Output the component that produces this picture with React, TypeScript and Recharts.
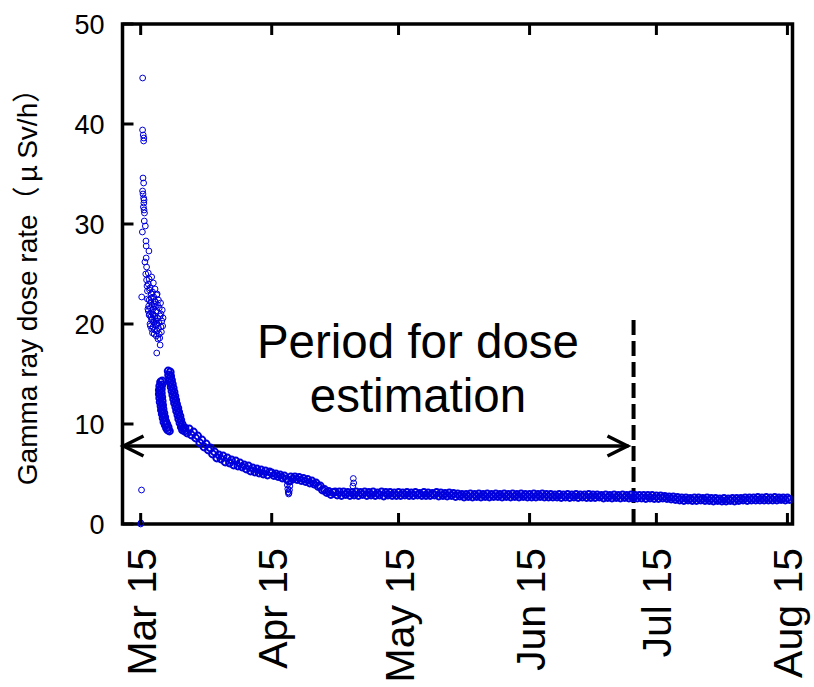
import React from "react";
import {
  ScatterChart,
  Scatter,
  XAxis,
  YAxis,
  ReferenceArea,
  ReferenceLine,
  ReferenceDot,
} from "recharts";

// x values are days counted from Mar 15
const tickDays = [0, 31, 61, 92, 122, 153];
const tickLabels = ["Mar 15", "Apr 15", "May 15", "Jun 15", "Jul 15", "Aug 15"];
const rateTicks = [0, 10, 20, 30, 40, 50];

// first days after Mar 15: sparse readings
const spikeDays = [
  0.0, 0.05, 0.2, 0.47, 0.45, 0.6, 0.75, 0.7, 0.55, 0.7, 0.45, 0.55, 0.7, 0.8, 0.75, 0.65, 0.8, 0.9, 0.85,
  0.4, 1.25, 1.95, 1.3, 1.0, 1.4, 1.8, 1.2, 2.6, 1.4, 3.0, 1.8, 2.2, 1.6, 2.8, 0.24, 3.8, 1.6, 2.4, 3.3,
  3.2, 1.9, 2.9, 3.6, 2.1, 2.6, 3.4, 4.0, 2.6, 3.1, 3.8, 2.3, 4.2, 3.3, 2.8, 4.4, 3.7, 4.1, 4.6, 3.8,
  2.0, 2.7, 3.5, 2.4, 3.0, 3.6, 4.3, 2.9, 3.9, 4.5, 2.2, 1.8, 2.5, 3.4, 2.0, 2.8, 3.2,
  1.5, 2.1, 2.5, 3.1, 3.5, 1.7, 2.3, 2.9, 3.3, 4.0, 2.0, 2.6, 3.7, 1.3, 1.1,
  4.8, 5.0, 5.2, 4.9, 4.7, 5.1, 4.6, 4.4, 4.2, 3.9, 4.8, 5.3,
];
const spikeRates = [
  0.0, 0.1, 3.4, 44.6, 39.4, 38.9, 38.6, 38.3, 34.6, 34.1, 33.3, 33.0, 32.6, 32.4, 32.1, 31.7, 31.4, 31.1, 30.3,
  29.2, 28.3, 27.3, 26.6, 26.2, 25.7, 25.1, 25.0, 24.7, 24.4, 24.1, 24.0, 23.6, 23.3, 23.2, 22.7, 22.9, 22.5, 22.2, 22.3,
  22.0, 21.8, 21.5, 21.3, 21.0, 21.2, 20.8, 20.6, 20.4, 20.2, 20.0, 19.8, 19.6, 19.4, 19.1, 19.0, 18.8, 18.5, 17.9, 17.1,
  22.4, 21.9, 21.7, 20.7, 20.9, 20.3, 20.1, 19.7, 19.3, 18.6, 20.0, 21.3, 23.0, 23.5, 24.5, 20.5, 19.0,
  23.8, 23.4, 22.6, 22.7, 22.2, 21.5, 21.6, 21.0, 20.6, 21.9, 20.9, 19.5, 19.9, 27.8, 29.8,
  21.0, 20.3, 19.8, 19.2, 22.1, 21.4, 20.8, 21.6, 22.4, 23.0, 19.7, 20.6,
];

// the two falling streaks around Mar 19-25
const streakDays = [
  4.7, 4.5, 4.4, 4.4, 4.5, 4.6, 4.8, 4.9, 5.1, 5.3, 5.5, 5.8, 6.1, 6.4,
  5.1, 5.0, 4.9, 4.9, 5.0, 5.1, 5.2, 5.3, 5.5, 5.7, 5.9, 6.2, 6.5, 6.8,
  6.5, 6.6, 6.8, 7.0, 7.2, 7.4, 7.6, 7.8, 8.0, 8.3, 8.5, 8.8, 9.0, 9.3, 9.6, 9.9,
  7.0, 7.1, 7.3, 7.5, 7.7, 7.9, 8.1, 8.3, 8.5, 8.8, 9.0, 9.3, 9.5, 9.8, 10.1, 10.4,
];
const streakRates = [
  14.2, 13.8, 13.4, 13.0, 12.6, 12.2, 11.8, 11.4, 11.0, 10.6, 10.2, 9.9, 9.6, 9.4,
  14.3, 13.9, 13.5, 13.1, 12.7, 12.3, 11.9, 11.5, 11.1, 10.7, 10.3, 10.0, 9.7, 9.3,
  15.3, 14.9, 14.5, 14.1, 13.7, 13.3, 12.9, 12.5, 12.1, 11.7, 11.3, 10.9, 10.5, 10.1, 9.7, 9.4,
  15.2, 14.8, 14.4, 14.0, 13.6, 13.2, 12.8, 12.4, 12.0, 11.6, 11.2, 10.8, 10.4, 10.0, 9.6, 9.3,
];

// hook around Apr 19 and the blip around May 4
const bumpDays = [34.7, 34.8, 34.9, 35.0, 35.1, 35.2, 35.3, 35.4, 50.3, 50.4, 50.2];
const bumpRates = [3.9, 3.5, 3.2, 3.0, 3.1, 3.4, 3.8, 4.2, 4.55, 4.1, 3.8];

// continuous readings, one every half day from the given start day
const bandStarts = [10.5, 31, 61, 92, 122];
const bandMar = [
  9.6, 9.1, 9.5, 8.9, 9.2, 8.6, 8.8, 8.1, 8.4, 7.7, 8.0, 7.4, 7.6, 7.0, 7.2, 6.6, 6.9, 6.5, 6.8, 6.2,
  6.6, 6.1, 6.4, 5.9, 6.3, 5.8, 6.1, 5.7, 5.9, 5.5, 5.8, 5.3, 5.6, 5.2, 5.5, 5.1, 5.4, 5.0, 5.3, 4.9, 5.2,
];
const bandApr = [
  5.1, 4.85, 5.0, 4.75, 4.9, 4.6, 4.8, 4.5, 4.3, 4.7, 4.5, 4.7, 4.45, 4.65, 4.35, 4.55, 4.25, 4.45, 4.1, 4.3,
  4.0, 4.1, 3.75, 3.8, 3.4, 3.45, 3.15, 3.25, 2.95, 3.15, 3.2, 2.9, 3.2, 2.85, 3.2, 2.95, 3.15, 2.85, 3.15, 2.9,
  3.2, 2.85, 3.15, 2.95, 3.2, 2.85, 3.15, 2.9, 3.2, 2.85, 3.1, 2.9, 3.2, 2.8, 3.15, 2.9, 3.15, 2.85, 3.1, 2.85,
];
const bandMay = [
  3.15, 2.85, 3.1, 2.9, 3.15, 2.85, 3.1, 2.85, 3.15, 2.9, 3.05, 2.85, 3.15, 2.85, 3.1, 2.85, 3.05, 2.9, 3.15, 2.8,
  3.1, 2.85, 3.05, 2.8, 3.1, 2.85, 3.05, 2.75, 3.0, 2.8, 2.95, 2.7, 2.95, 2.75, 3.0, 2.7, 2.95, 2.75, 3.0, 2.7,
  2.95, 2.75, 3.0, 2.7, 2.95, 2.75, 3.0, 2.75, 2.95, 2.7, 3.0, 2.75, 2.95, 2.7, 3.0, 2.75, 2.95, 2.7, 3.0, 2.75,
  2.95, 2.7,
];
const bandJun = [
  2.95, 2.7, 3.0, 2.7, 2.95, 2.75, 3.0, 2.7, 2.95, 2.7, 2.95, 2.7, 2.9, 2.7, 2.95, 2.65, 2.9, 2.7, 2.95, 2.65,
  2.9, 2.7, 2.95, 2.65, 2.9, 2.7, 2.9, 2.65, 2.95, 2.65, 2.9, 2.65, 2.9, 2.7, 2.85, 2.6, 2.9, 2.65, 2.85, 2.6,
  2.9, 2.65, 2.85, 2.6, 2.9, 2.65, 2.85, 2.6, 2.9, 2.6, 2.85, 2.6, 2.85, 2.6, 2.85, 2.55, 2.85, 2.6, 2.85, 2.55,
];
const bandJul = [
  2.8, 2.55, 2.8, 2.6, 2.75, 2.55, 2.7, 2.5, 2.7, 2.45, 2.65, 2.4, 2.6, 2.35, 2.6, 2.4, 2.55, 2.35, 2.6, 2.35,
  2.6, 2.4, 2.55, 2.35, 2.6, 2.35, 2.55, 2.3, 2.55, 2.35, 2.5, 2.3, 2.55, 2.3, 2.5, 2.35, 2.55, 2.3, 2.55, 2.35,
  2.55, 2.4, 2.6, 2.35, 2.6, 2.4, 2.6, 2.4, 2.65, 2.4, 2.6, 2.4, 2.65, 2.4, 2.6, 2.4, 2.65, 2.4, 2.6, 2.45,
  2.6, 2.4, 2.6, 2.45,
];

// annotation
const xMin = -4.3;
const xMax = 154.2;
const periodEnd = 116.6;
const arrowEnd = 115.4;
const arrowRate = 7.8;
const dashTop = 20.8;

const FONT = "'Liberation Sans', Arial, 'Noto Sans CJK JP', sans-serif";
const CJK = "'Noto Sans CJK JP', sans-serif";
const BLUE = "#0000dd";

const pairs = (days: number[], rates: number[]) => days.map((d, i) => ({ day: d, rate: rates[i] }));
const band = [bandMar, bandApr, bandMay, bandJun, bandJul].flatMap((arr, k) =>
  arr.map((r, i) => ({ day: bandStarts[k] + i * 0.5, rate: r }))
);
const sparse = [...pairs(spikeDays, spikeRates), ...pairs(bumpDays, bumpRates)];
const streaks = pairs(streakDays, streakRates);

const Ring = (p: any) => <circle cx={p.cx} cy={p.cy} r={2.9} fill="none" stroke={BLUE} strokeWidth={1} />;
// dense hourly readings merge into a solid ribbon
const DenseRing = (p: any) => <circle cx={p.cx} cy={p.cy} r={3.4} fill="none" stroke={BLUE} strokeWidth={2} />;

const BottomTick = ({ x, y, payload }: any) => {
  const label = tickLabels[tickDays.indexOf(payload.value)];
  const tx = x + 15;
  const ty = y + 24;
  return (
    <g>
      <line x1={x} y1={y} x2={x} y2={y - 11} stroke="#000" strokeWidth={3} />
      <text x={tx} y={ty} transform={`rotate(-90, ${tx}, ${ty})`} textAnchor="end" fontSize={41} fontFamily={FONT} fill="#000">
        {label}
      </text>
    </g>
  );
};
const TopTick = ({ x, y }: any) => <line x1={x} y1={y} x2={x} y2={y + 11} stroke="#000" strokeWidth={3} />;
const LeftTick = ({ x, y, payload }: any) => (
  <g>
    <line x1={x} y1={y} x2={x + 11} y2={y} stroke="#000" strokeWidth={3} />
    <text x={x - 18} y={y} dy="0.36em" textAnchor="end" fontSize={27} fontFamily={FONT} fill="#000">
      {payload.value}
    </text>
  </g>
);
const RightTick = ({ x, y }: any) => <line x1={x} y1={y} x2={x - 11} y2={y} stroke="#000" strokeWidth={3} />;

const Arrow = (p: any) => {
  const { x1, y1, x2, y2 } = p;
  return (
    <g stroke="#000" strokeWidth={3.5} fill="none">
      <line x1={x1} y1={y1} x2={x2} y2={y2} />
      <polyline points={`${x1 + 21},${y1 - 10} ${x1 + 1},${y1} ${x1 + 21},${y1 + 10}`} />
      <polyline points={`${x2 - 21},${y2 - 10} ${x2 - 1},${y2} ${x2 - 21},${y2 + 10}`} />
    </g>
  );
};

const PeriodText = (p: any) => (
  <text x={p.cx} y={p.cy} textAnchor="middle" fontSize={47.5} fontFamily={FONT} fill="#000">
    <tspan x={p.cx}>Period for dose</tspan>
    <tspan x={p.cx} dy={54}>estimation</tspan>
  </text>
);

const YTitle = () => (
  <text x={37} y={280} transform="rotate(-90, 37, 280)" textAnchor="middle" fontSize={28} fontFamily={FONT} fill="#000">
    Gamma ray dose rate
    <tspan fontFamily={CJK}>（</tspan>
    <tspan fontFamily={CJK} dx={4}>μ</tspan>
    <tspan dx={6}>Sv/h</tspan>
    <tspan fontFamily={CJK}>）</tspan>
  </text>
);

export default function App() {
  return (
    <div style={{ position: "absolute", left: 0, top: 0, width: 814, height: 687, background: "#fff" }}>
      <ScatterChart width={814} height={687} margin={{ top: 0, right: 0, bottom: 0, left: 0 }}>
        <XAxis
          xAxisId="bottom"
          type="number"
          dataKey="day"
          domain={[xMin, xMax]}
          allowDataOverflow
          ticks={tickDays}
          interval={0}
          height={163}
          axisLine={false}
          tickLine={false}
          tickSize={0}
          tickMargin={0}
          tick={<BottomTick />}
        />
        <XAxis
          xAxisId="top"
          orientation="top"
          type="number"
          dataKey="day"
          domain={[xMin, xMax]}
          allowDataOverflow
          ticks={tickDays}
          interval={0}
          height={24}
          axisLine={false}
          tickLine={false}
          tickSize={0}
          tickMargin={0}
          tick={<TopTick />}
        />
        <YAxis
          yAxisId="left"
          type="number"
          dataKey="rate"
          domain={[0, 50]}
          ticks={rateTicks}
          interval={0}
          width={122.5}
          axisLine={false}
          tickLine={false}
          tickSize={0}
          tickMargin={0}
          tick={<LeftTick />}
          label={{ content: () => <YTitle /> }}
        />
        <YAxis
          yAxisId="right"
          orientation="right"
          type="number"
          dataKey="rate"
          domain={[0, 50]}
          ticks={rateTicks}
          interval={0}
          width={21.5}
          axisLine={false}
          tickLine={false}
          tickSize={0}
          tickMargin={0}
          tick={<RightTick />}
        />
        <Scatter xAxisId="bottom" yAxisId="left" data={sparse} shape={Ring} isAnimationActive={false} />
        <Scatter xAxisId="bottom" yAxisId="left" data={streaks} shape={DenseRing} isAnimationActive={false} />
        <Scatter xAxisId="bottom" yAxisId="left" data={band} shape={DenseRing} isAnimationActive={false} />
        <ReferenceLine
          xAxisId="bottom"
          yAxisId="left"
          segment={[{ x: xMin, y: arrowRate }, { x: arrowEnd, y: arrowRate }]}
          shape={Arrow}
        />
        <ReferenceLine
          xAxisId="bottom"
          yAxisId="left"
          segment={[{ x: periodEnd, y: 0 }, { x: periodEnd, y: dashTop }]}
          stroke="#000"
          strokeWidth={4}
          strokeDasharray="15 6"
        />
        <ReferenceDot xAxisId="bottom" yAxisId="left" x={65.6} y={16.6} r={0} shape={PeriodText} />
        <ReferenceArea
          xAxisId="bottom"
          yAxisId="left"
          x1={xMin}
          x2={xMax}
          y1={0}
          y2={50}
          fill="none"
          fillOpacity={0}
          stroke="#000"
          strokeWidth={3.5}
        />
      </ScatterChart>
    </div>
  );
}
